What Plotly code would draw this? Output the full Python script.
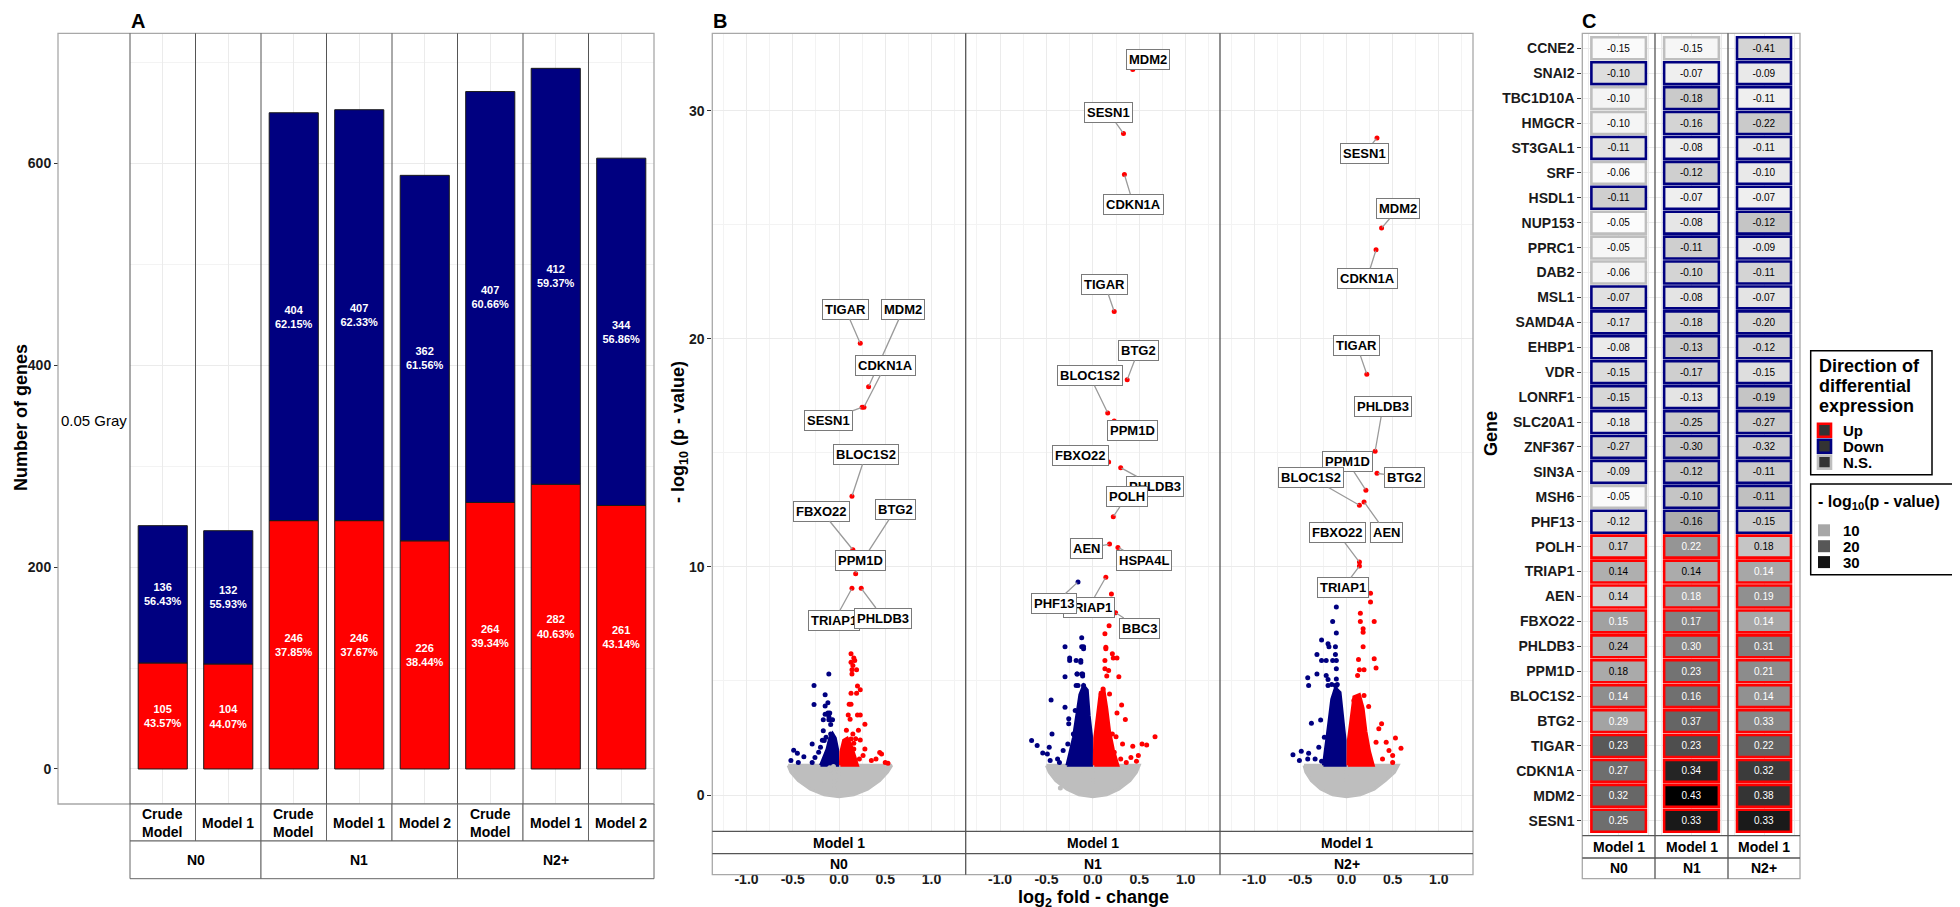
import plotly.graph_objects as go

W, H = 1960, 907
FONT = "Liberation Sans, Arial, Helvetica, sans-serif"
RED, NAVY, GREY = "#FF0000", "#000080", "#BEBEBE"
GRID, MINOR = "#EBEBEB", "#F3F3F3"

# ---------------- Panel A data ----------------
a_groups = ["N0", "N0", "N1", "N1", "N1", "N2+", "N2+", "N2+"]
a_models = ["Crude<br>Model", "Model 1", "Crude<br>Model", "Model 1", "Model 2",
            "Crude<br>Model", "Model 1", "Model 2"]
a_down = [136, 132, 404, 407, 362, 407, 412, 344]
a_up = [105, 104, 246, 246, 226, 264, 282, 261]
a_row_label = "0.05 Gray"
a_yticks = [0, 200, 400, 600]

# ---------------- Panel C data (also the labelled genes of panel B) ----------------
genes = ["CCNE2", "SNAI2", "TBC1D10A", "HMGCR", "ST3GAL1", "SRF", "HSDL1", "NUP153",
         "PPRC1", "DAB2", "MSL1", "SAMD4A", "EHBP1", "VDR", "LONRF1", "SLC20A1",
         "ZNF367", "SIN3A", "MSH6", "PHF13", "POLH", "TRIAP1", "AEN", "FBXO22",
         "PHLDB3", "PPM1D", "BLOC1S2", "BTG2", "TIGAR", "CDKN1A", "MDM2", "SESN1"]
c_groups = ["N0", "N1", "N2+"]
c_models = ["Model 1", "Model 1", "Model 1"]

lfc_n0 = [-0.15, -0.10, -0.10, -0.10, -0.11, -0.06, -0.11, -0.05, -0.05, -0.06, -0.07, -0.17,
          -0.08, -0.15, -0.15, -0.18, -0.27, -0.09, -0.05, -0.12, 0.17, 0.14, 0.14, 0.15,
          0.24, 0.18, 0.14, 0.29, 0.23, 0.27, 0.32, 0.25]
lfc_n1 = [-0.15, -0.07, -0.18, -0.16, -0.08, -0.12, -0.07, -0.08, -0.11, -0.10, -0.08, -0.18,
          -0.13, -0.17, -0.13, -0.25, -0.30, -0.12, -0.10, -0.16, 0.22, 0.14, 0.18, 0.17,
          0.30, 0.23, 0.16, 0.37, 0.23, 0.34, 0.43, 0.33]
lfc_n2 = [-0.41, -0.09, -0.11, -0.22, -0.11, -0.10, -0.07, -0.12, -0.09, -0.11, -0.07, -0.20,
          -0.12, -0.15, -0.19, -0.27, -0.32, -0.11, -0.11, -0.15, 0.18, 0.14, 0.19, 0.14,
          0.31, 0.21, 0.14, 0.33, 0.22, 0.32, 0.38, 0.33]

# -log10(p-value), estimated from tile shade and volcano heights
nlp_n0 = [0.6, 3.6, 1.2, 1.1, 3.3, 0.6, 5.3, 0.3, 1.0, 1.25, 3.3, 3.3, 2.2, 3.9, 4.4, 2.4,
          4.8, 3.3, 0.6, 3.6, 5.9, 9.06, 5.3, 10.75, 9.06, 9.7, 13.1, 10.5, 19.8, 17.0, 17.9, 17.0]
nlp_n1 = [1.0, 1.8, 5.9, 4.8, 2.0, 5.3, 1.8, 2.8, 5.3, 4.8, 3.0, 4.8, 5.9, 5.3, 3.0, 5.9,
          6.5, 6.5, 6.5, 9.34, 12.2, 9.55, 11.0, 14.6, 14.35, 16.4, 16.75, 18.2, 21.2, 27.2, 31.8, 29.0]
nlp_n2 = [4.8, 2.4, 1.8, 5.9, 2.4, 2.4, 1.8, 6.5, 2.4, 4.8, 3.0, 4.8, 4.8, 3.6, 6.5, 5.9,
          5.3, 5.9, 7.1, 5.9, 6.5, 10.04, 12.85, 10.21, 15.07, 13.36, 12.7, 14.1, 18.45, 23.9, 24.85, 28.8]

dir_n0 = ["NS", "Down", "NS", "NS", "Down", "NS", "Down", "NS", "NS", "NS", "Down", "Down",
          "Down", "Down", "Down", "Down", "Down", "Down", "NS", "Down", "Up", "Up", "Up", "Up",
          "Up", "Up", "Up", "Up", "Up", "Up", "Up", "Up"]
dir_n1 = ["NS", "Down", "Down", "Down", "Down", "Down", "Down", "Down", "Down", "Down", "Down", "Down",
          "Down", "Down", "Down", "Down", "Down", "Down", "Down", "Down", "Up", "Up", "Up", "Up",
          "Up", "Up", "Up", "Up", "Up", "Up", "Up", "Up"]
dir_n2 = ["Down", "Down", "Down", "Down", "Down", "Down", "Down", "Down", "Down", "Down", "Down", "Down",
          "Down", "Down", "Down", "Down", "Down", "Down", "Down", "Down", "Up", "Up", "Up", "Up",
          "Up", "Up", "Up", "Up", "Up", "Up", "Up", "Up"]

# ---------------- Panel B data: other genes ----------------
b_extra_genes_n1 = ["HSPA4L", "BBC3"]
b_extra_lfc_n1 = [0.27, 0.245]
b_extra_nlp_n1 = [10.85, 7.99]

n0_up_pts = [(0.13, 6.19), (0.16, 6.01), (0.13, 5.82), (0.15, 5.68), (0.19, 5.49), (0.14, 5.49),
             (0.20, 4.78), (0.23, 4.61), (0.13, 4.46), (0.19, 4.46), (0.11, 3.98), (0.13, 3.98),
             (0.10, 3.51), (0.20, 3.51), (0.23, 3.51), (0.12, 3.32), (0.28, 3.10), (0.21, 2.84),
             (0.08, 2.84), (0.15, 2.68), (0.18, 2.47), (0.23, 2.41), (0.13, 2.46), (0.16, 2.27),
             (0.28, 2.02), (0.16, 2.02), (0.46, 1.80), (0.44, 1.86), (0.35, 1.51), (0.40, 1.58),
             (0.53, 1.39), (0.50, 1.43), (0.22, 1.58), (0.26, 1.73), (0.10, 2.17), (0.06, 1.95)]
n0_down_pts = [(-0.27, 3.97), (-0.12, 4.04), (-0.15, 3.54), (-0.11, 3.44), (-0.09, 3.09),
               (-0.17, 2.82), (-0.09, 2.68), (-0.29, 2.24), (-0.49, 1.96), (-0.45, 1.83),
               (-0.38, 1.68), (-0.52, 1.51), (-0.44, 1.43), (-0.29, 1.43), (-0.22, 1.87),
               (-0.16, 2.39), (-0.20, 2.09), (-0.14, 2.53), (-0.26, 1.65)]
n1_up_pts = [(0.20, 8.81), (0.175, 7.42), (0.13, 7.07), (0.14, 6.48), (0.14, 6.41), (0.21, 6.19),
             (0.26, 6.01), (0.22, 6.01), (0.13, 5.90), (0.13, 5.53), (0.17, 5.46), (0.28, 5.19),
             (0.15, 5.22), (0.11, 4.65), (0.18, 4.43), (0.09, 4.43), (0.31, 3.95), (0.26, 3.60),
             (0.35, 3.31), (0.21, 2.68), (0.25, 2.56), (0.32, 2.24), (0.67, 2.56), (0.53, 2.24),
             (0.58, 2.19), (0.43, 2.14), (0.36, 1.43), (0.41, 1.65), (0.47, 1.48), (0.30, 1.58),
             (0.23, 1.87), (0.49, 1.73)]
n1_down_pts = [(-0.12, 6.89), (-0.10, 6.41), (-0.25, 6.01), (-0.13, 5.82), (-0.17, 5.31),
               (-0.11, 5.22), (-0.30, 5.19), (-0.45, 4.17), (-0.30, 3.85), (-0.26, 3.34),
               (-0.44, 2.68), (-0.26, 3.12), (-0.66, 2.39), (-0.60, 2.17), (-0.47, 2.09),
               (-0.49, 1.80), (-0.54, 1.84), (-0.38, 1.58), (-0.46, 1.51), (-0.27, 2.24),
               (-0.32, 1.95), (-0.21, 2.68), (-0.19, 3.70), (-0.36, 1.43)]
n2_up_pts = [(0.26, 8.85), (0.26, 8.46), (0.15, 7.97), (0.30, 7.61), (0.15, 7.61), (0.18, 7.29),
             (0.18, 7.14), (0.30, 5.97), (0.32, 5.57), (0.13, 5.94), (0.14, 5.49), (0.19, 5.49),
             (0.12, 5.24), (0.19, 4.36), (0.24, 3.88), (0.38, 3.12), (0.35, 2.90), (0.32, 2.31),
             (0.43, 2.31), (0.53, 2.50), (0.59, 2.05), (0.50, 1.73), (0.39, 1.58), (0.50, 1.43),
             (0.46, 1.95), (0.08, 4.14)]
n2_down_pts = [(-0.11, 8.24), (-0.15, 7.61), (-0.27, 6.80), (-0.20, 6.63), (-0.32, 6.16),
               (-0.12, 6.16), (-0.11, 5.53), (-0.42, 5.14), (-0.22, 5.24), (-0.20, 5.06),
               (-0.16, 4.84), (-0.11, 5.09), (-0.10, 4.84), (-0.38, 3.15), (-0.28, 3.29),
               (-0.58, 1.77), (-0.51, 1.51), (-0.42, 1.58), (-0.41, 1.83), (-0.49, 1.92),
               (-0.34, 1.58), (-0.30, 2.09), (-0.27, 1.48), (-0.24, 2.53)]
n1_ns_pts = [(-0.35, 0.31)]

# dense cores of significant genes (outline)
n0_down_core = [(-0.20, 1.3), (-0.015, 1.3), (-0.015, 2.0), (-0.04, 2.5), (-0.07, 2.7),
                (-0.10, 2.5), (-0.13, 2.0), (-0.17, 1.6)]
n0_up_core = [(0.015, 1.3), (0.20, 1.3), (0.17, 1.7), (0.13, 2.2), (0.09, 2.5), (0.05, 2.4), (0.02, 1.9)]
n1_down_core = [(-0.28, 1.3), (-0.015, 1.3), (-0.015, 2.6), (-0.04, 3.5), (-0.06, 4.6), (-0.10, 4.8),
                (-0.14, 4.4), (-0.17, 3.5), (-0.21, 2.5), (-0.25, 1.8)]
n1_up_core = [(0.015, 1.3), (0.27, 1.3), (0.22, 2.0), (0.18, 2.8), (0.15, 3.8), (0.12, 4.6),
              (0.08, 4.5), (0.05, 3.6), (0.02, 2.5)]
n2_down_core = [(-0.25, 1.3), (-0.015, 1.3), (-0.015, 2.4), (-0.04, 3.4), (-0.07, 4.5), (-0.12, 4.7),
                (-0.16, 4.2), (-0.19, 3.2), (-0.22, 2.3)]
n2_up_core = [(0.015, 1.3), (0.29, 1.3), (0.25, 1.9), (0.21, 2.8), (0.18, 3.8), (0.14, 4.4),
              (0.08, 4.3), (0.05, 3.4), (0.02, 2.4)]
# not-significant cloud outline
n0_cloud = [(-0.55, 1.3), (-0.005, 1.3), (0.0, 0.5), (0.005, 1.3), (0.57, 1.3), (0.525, 1.0),
            (0.44, 0.63), (0.31, 0.26), (0.16, 0.01), (0.0, -0.07), (-0.16, 0.01), (-0.31, 0.26),
            (-0.44, 0.63), (-0.52, 1.0)]
n1_cloud = [(-0.50, 1.3), (-0.005, 1.3), (0.0, 0.5), (0.005, 1.3), (0.50, 1.3), (0.47, 1.0),
            (0.40, 0.63), (0.28, 0.26), (0.15, 0.01), (0.0, -0.07), (-0.15, 0.01), (-0.28, 0.26),
            (-0.40, 0.63), (-0.47, 1.0)]
n2_cloud = [(-0.46, 1.3), (-0.005, 1.3), (0.0, 0.5), (0.005, 1.3), (0.56, 1.3), (0.52, 1.0),
            (0.42, 0.63), (0.30, 0.26), (0.15, 0.01), (0.0, -0.07), (-0.15, 0.01), (-0.28, 0.26),
            (-0.38, 0.63), (-0.44, 1.0)]

# label box positions (ggrepel placement) for panel B
b_label_pos = [
    {"TIGAR": (0.068, 21.3), "MDM2": (0.696, 21.3), "CDKN1A": (0.504, 18.85), "SESN1": (-0.115, 16.43),
     "BLOC1S2": (0.29, 14.94), "FBXO22": (-0.19, 12.45), "BTG2": (0.61, 12.51), "PPM1D": (0.235, 10.29),
     "TRIAP1": (-0.05, 7.65), "PHLDB3": (0.48, 7.76)},
    {"MDM2": (0.598, 32.24), "SESN1": (0.171, 29.9), "CDKN1A": (0.436, 25.9), "TIGAR": (0.128, 22.4),
     "BTG2": (0.491, 19.5), "BLOC1S2": (-0.034, 18.38), "PPM1D": (0.427, 15.97), "FBXO22": (-0.137, 14.9),
     "PHLDB3": (0.67, 13.53), "POLH": (0.363, 13.07), "AEN": (-0.064, 10.8), "HSPA4L": (0.547, 10.29),
     "TRIAP1": (-0.043, 8.24), "PHF13": (-0.414, 8.38), "BBC3": (0.5, 7.32)},
    {"SESN1": (0.193, 28.14), "MDM2": (0.558, 25.7), "CDKN1A": (0.223, 22.65), "TIGAR": (0.113, 19.7),
     "PHLDB3": (0.394, 17.02), "PPM1D": (0.011, 14.6), "BLOC1S2": (-0.383, 13.92), "BTG2": (0.63, 13.94),
     "FBXO22": (-0.099, 11.49), "AEN": (0.43, 11.49), "TRIAP1": (-0.033, 9.09)},
]
b_xticks = [-1.0, -0.5, 0.0, 0.5, 1.0]
b_yticks = [0, 10, 20, 30]
legend_dirs = ["Up", "Down", "N.S."]
legend_nlp = [10, 20, 30]

# ---------------- helpers ----------------
def fx(p):
    return p / W

def fy(p):
    return 1 - p / H

def lab_gray(t):
    L = 100 * (1 - t)
    Y = ((L + 16) / 116) ** 3 if L > 8 else L / 903.3
    s = 12.92 * Y if Y <= 0.0031308 else 1.055 * Y ** (1 / 2.4) - 0.055
    g = int(round(255 * min(max(s, 0), 1)))
    return f"rgb({g},{g},{g})"

gray_scale = [[i / 20, lab_gray(i / 20)] for i in range(21)]
PMAX = max(nlp_n0 + nlp_n1 + nlp_n2)
DIRCOL = {"Up": RED, "Down": NAVY, "NS": GREY, "N.S.": GREY}

fig = go.Figure()
layout = {}
shapes, annos = [], []

def rect(x0, y0, x1, y1, color, width=1.0, fill="rgba(0,0,0,0)"):
    shapes.append(dict(type="rect", xref="paper", yref="paper", x0=fx(x0), x1=fx(x1),
                       y0=fy(y1), y1=fy(y0), line=dict(color=color, width=width),
                       fillcolor=fill, layer="above"))

def hline(x0, x1, y, color, width=1.0):
    shapes.append(dict(type="line", xref="paper", yref="paper", x0=fx(x0), x1=fx(x1),
                       y0=fy(y), y1=fy(y), line=dict(color=color, width=width), layer="above"))

def vline(x, y0, y1, color, width=1.0):
    shapes.append(dict(type="line", xref="paper", yref="paper", x0=fx(x), x1=fx(x),
                       y0=fy(y0), y1=fy(y1), line=dict(color=color, width=width), layer="above"))

def text(x, y, s, size=14, bold=True, angle=0, color="black", xanchor="center", yanchor="middle"):
    annos.append(dict(x=fx(x), y=fy(y), xref="paper", yref="paper", text=s, showarrow=False,
                      textangle=angle, xanchor=xanchor, yanchor=yanchor,
                      font=dict(family=FONT, size=size, color=color,
                                weight="bold" if bold else "normal")))

TICKFONT = dict(family=FONT, size=14, color="#1a1a1a", weight="bold")
TOP = 25.3
FRAME = "#A8A8A8"
DIV = "#555555"

# ================= Panel A =================
A_OUT_L, A_L, A_R, A_BOT, A_S1, A_S2 = 50, 122, 646, 796, 833, 870.7
nA = len(a_models)
a_edges = [A_L + i * (A_R - A_L) / nA for i in range(nA + 1)]
for i in range(nA):
    xa = "x" if i == 0 else f"x{i + 1}"
    key = "xaxis" if i == 0 else f"xaxis{i + 1}"
    layout[key] = dict(domain=[fx(a_edges[i]), fx(a_edges[i + 1])], anchor="y", type="category",
                       range=[-0.6, 0.6], showticklabels=False, ticks="", showgrid=True,
                       gridcolor=GRID, zeroline=False, showline=False)
    tot = a_up[i] + a_down[i]
    tf = dict(family=FONT, size=11, color="white", weight="bold")
    fig.add_trace(go.Bar(x=[a_models[i]], y=[a_up[i]], base=[0], width=[0.9], xaxis=xa, yaxis="y",
                         marker=dict(color=RED, line=dict(color="#1a1a1a", width=1)),
                         text=[f"{a_up[i]}<br>{100 * a_up[i] / tot:.2f}%"], textposition="inside",
                         insidetextanchor="middle", textangle=0, textfont=tf,
                         hoverinfo="skip", showlegend=False))
    fig.add_trace(go.Bar(x=[a_models[i]], y=[a_down[i]], base=[a_up[i]], width=[0.9], xaxis=xa, yaxis="y",
                         marker=dict(color=NAVY, line=dict(color="#1a1a1a", width=1)),
                         text=[f"{a_down[i]}<br>{100 * a_down[i] / tot:.2f}%"], textposition="inside",
                         insidetextanchor="middle", textangle=0, textfont=tf,
                         hoverinfo="skip", showlegend=False))

ymaxA = max(u + d for u, d in zip(a_up, a_down))
layout["yaxis"] = dict(domain=[fy(A_BOT), fy(TOP)], range=[-0.05 * ymaxA, 1.05 * ymaxA],
                       anchor="free", position=fx(A_OUT_L), tickvals=a_yticks, ticks="outside",
                       ticklen=4, tickcolor="#333", tickfont=TICKFONT, showgrid=True, gridcolor=GRID,
                       zeroline=False, showline=False,
                       minor=dict(tickvals=[100, 300, 500, 700], showgrid=True, gridcolor=MINOR, ticks=""))
rect(A_OUT_L, TOP, A_R, A_BOT, FRAME, 1.3)
for e in a_edges[:-1]:
    vline(e, TOP, A_BOT, DIV, 1)
for i in range(nA):
    rect(a_edges[i], A_BOT, a_edges[i + 1], A_S1, "#666", 1, "white")
    text((a_edges[i] + a_edges[i + 1]) / 2, (A_BOT + A_S1) / 2, a_models[i], 14)
start = 0
for i in range(1, nA + 1):
    if i == nA or a_groups[i] != a_groups[start]:
        rect(a_edges[start], A_S1, a_edges[i], A_S2, "#666", 1, "white")
        text((a_edges[start] + a_edges[i]) / 2, (A_S1 + A_S2) / 2, a_groups[start], 14)
        start = i
text((A_OUT_L + A_L) / 2, 412, a_row_label, 15, bold=False)
text(13, 410, "Number of genes", 18, angle=-90)
text(130, 0, "A", 20, yanchor="top")

# ================= Panel B =================
B_EDGES = [704.3, 957.7, 1212, 1465]
B_BOT, B_S1, B_S2 = 823.3, 845.7, 866.7
lfcs = [lfc_n0, lfc_n1, lfc_n2]
nlps = [nlp_n0, nlp_n1, nlp_n2]
dirs = [dir_n0, dir_n1, dir_n2]
clouds = [n0_cloud, n1_cloud, n2_cloud]
down_cores = [n0_down_core, n1_down_core, n2_down_core]
up_cores = [n0_up_core, n1_up_core, n2_up_core]
up_pts = [n0_up_pts, n1_up_pts, n2_up_pts]
down_pts = [n0_down_pts, n1_down_pts, n2_down_pts]
ns_pts = [[], n1_ns_pts, []]
extras = [([], [], []), (b_extra_genes_n1, b_extra_lfc_n1, b_extra_nlp_n1), ([], [], [])]
ymaxB = max(max(v) for v in nlps)
MS = 5

for k in range(3):
    ax_id = 9 + k
    xa = f"x{ax_id}"
    layout[f"xaxis{ax_id}"] = dict(domain=[fx(B_EDGES[k]), fx(B_EDGES[k + 1])], anchor="y2",
                                   range=[-1.37, 1.37], tickvals=b_xticks,
                                   ticktext=[f"{v:.1f}" for v in b_xticks], tickfont=TICKFONT,
                                   ticks="", ticklabelstandoff=38, showgrid=True, gridcolor=GRID,
                                   zeroline=False, showline=False,
                                   minor=dict(tickvals=[-1.25, -0.75, -0.25, 0.25, 0.75, 1.25],
                                              showgrid=True, gridcolor=MINOR, ticks=""))

    def poly(pts, color):
        xs = [p[0] for p in pts] + [pts[0][0]]
        ys = [p[1] for p in pts] + [pts[0][1]]
        fig.add_trace(go.Scatter(x=xs, y=ys, mode="lines", fill="toself", fillcolor=color,
                                 line=dict(color=color, width=3), xaxis=xa, yaxis="y2",
                                 hoverinfo="skip", showlegend=False))
    poly(clouds[k], GREY)
    poly(down_cores[k], NAVY)
    poly(up_cores[k], RED)
    for pts, col in ((ns_pts[k], GREY), (down_pts[k], NAVY), (up_pts[k], RED)):
        if pts:
            fig.add_trace(go.Scatter(x=[p[0] for p in pts], y=[p[1] for p in pts], mode="markers",
                                     marker=dict(color=col, size=MS), xaxis=xa, yaxis="y2",
                                     hoverinfo="skip", showlegend=False))
    for d, col in (("NS", GREY), ("Down", NAVY), ("Up", RED)):
        xs = [lfcs[k][j] for j in range(len(genes)) if dirs[k][j] == d]
        ys = [nlps[k][j] for j in range(len(genes)) if dirs[k][j] == d]
        if xs:
            fig.add_trace(go.Scatter(x=xs, y=ys, mode="markers", marker=dict(color=col, size=MS),
                                     xaxis=xa, yaxis="y2", hoverinfo="skip", showlegend=False))
    eg, el, en = extras[k]
    if eg:
        fig.add_trace(go.Scatter(x=el, y=en, mode="markers", marker=dict(color=RED, size=MS),
                                 xaxis=xa, yaxis="y2", hoverinfo="skip", showlegend=False))
    coords = {g: (lfcs[k][j], nlps[k][j]) for j, g in enumerate(genes)}
    for g, l, n_ in zip(eg, el, en):
        coords[g] = (l, n_)
    for g, (lx, ly) in b_label_pos[k].items():
        px_, py_ = coords[g]
        annos.append(dict(x=px_, y=py_, xref=xa, yref="y2", ax=lx, ay=ly, axref=xa, ayref="y2",
                          text=f"<b>{g}</b>", showarrow=True, arrowhead=0, arrowwidth=1.3,
                          arrowcolor="#9a9a9a", standoff=1, bgcolor="white", bordercolor="#7a7a7a",
                          borderwidth=1, borderpad=2,
                          font=dict(family=FONT, size=13, color="black")))

layout["yaxis2"] = dict(domain=[fy(B_BOT), fy(TOP)], range=[-0.05 * ymaxB, 1.05 * ymaxB], anchor="x9",
                        tickvals=b_yticks, ticks="outside", ticklen=4, tickcolor="#333",
                        tickfont=TICKFONT, showgrid=True, gridcolor=GRID, zeroline=False, showline=False,
                        minor=dict(tickvals=[5, 15, 25], showgrid=True, gridcolor=MINOR, ticks=""))
rect(B_EDGES[0], TOP, B_EDGES[-1], B_S2, FRAME, 1.3)
for e in B_EDGES[1:-1]:
    vline(e, TOP, B_S2, DIV, 1.3)
hline(B_EDGES[0], B_EDGES[-1], B_BOT, DIV, 1.3)
hline(B_EDGES[0], B_EDGES[-1], B_S1, DIV, 1.3)
for k in range(3):
    cx = (B_EDGES[k] + B_EDGES[k + 1]) / 2
    text(cx, (B_BOT + B_S1) / 2, c_models[k], 14)
    text(cx, (B_S1 + B_S2) / 2, c_groups[k], 14)
text(672, 424, "- log<sub>10</sub> (p - value)", 18, angle=-90)
text(1085, 890, "log<sub>2</sub> fold - change", 18)
text(712, 0, "B", 20, yanchor="top")

# ================= Panel C =================
C_EDGES = [1574.3, 1647, 1720, 1792]
C_BOT, C_S1, C_S2 = 827.7, 850, 870.7
TILE = 0.9
for k in range(3):
    ax_id = 12 + k
    xa = f"x{ax_id}"
    layout[f"xaxis{ax_id}"] = dict(domain=[fx(C_EDGES[k]), fx(C_EDGES[k + 1])], anchor="y3",
                                   range=[-0.6, 0.6], showticklabels=False, ticks="",
                                   showgrid=True, gridcolor=GRID, zeroline=False, showline=False)
    fig.add_trace(go.Bar(orientation="h", y=genes, x=[TILE] * len(genes), base=[-TILE / 2] * len(genes),
                         width=0.88, xaxis=xa, yaxis="y3",
                         marker=dict(color=nlps[k], colorscale=gray_scale, cmin=0, cmax=PMAX,
                                     line=dict(color=[DIRCOL[d] for d in dirs[k]], width=2.6)),
                         text=[f"{v:.2f}" for v in lfcs[k]], textposition="inside",
                         insidetextanchor="middle", textangle=0, constraintext="none",
                         textfont=dict(family=FONT, size=10,
                                       color=["white" if p > 10 else "black" for p in nlps[k]]),
                         hoverinfo="skip", showlegend=False))

layout["yaxis3"] = dict(domain=[fy(C_BOT), fy(TOP)], type="category", categoryorder="array",
                        categoryarray=genes, range=[len(genes) - 0.4, -0.6], anchor="x12",
                        ticks="outside", ticklen=4, tickcolor="#333", tickfont=TICKFONT,
                        showgrid=True, gridcolor=GRID, zeroline=False, showline=False)
rect(C_EDGES[0], TOP, C_EDGES[-1], C_S2, FRAME, 1.3)
for e in C_EDGES[1:-1]:
    vline(e, TOP, C_S2, DIV, 1.3)
hline(C_EDGES[0], C_EDGES[-1], C_BOT, DIV, 1.3)
hline(C_EDGES[0], C_EDGES[-1], C_S1, DIV, 1.3)
for k in range(3):
    cx = (C_EDGES[k] + C_EDGES[k + 1]) / 2
    text(cx, (C_BOT + C_S1) / 2, c_models[k], 14)
    text(cx, (C_S1 + C_S2) / 2, c_groups[k], 14)
text(1483, 426, "Gene", 18, angle=-90)
text(1581, 0, "C", 20, yanchor="top")

# ---------------- legends (drawn as keys + text) ----------------
L1 = (1802.7, 342.7, 1924, 466.7)
rect(*L1, "black", 1.5, "white")
for j, s in enumerate(["Direction of", "differential", "expression"]):
    text(1808.5, 357.5 + 20 * j, s, 18, xanchor="left")
for j, d in enumerate(legend_dirs):
    cy = 422.3 + 15.9 * j
    rect(1810, cy - 6.5, 1823, cy + 6.5, DIRCOL[d], 2.6, "#333333")
    text(1833, cy, d, 15, xanchor="left")
L2 = (1802.7, 476, 1958.3, 566.7)
rect(*L2, "black", 1.5, "white")
text(1807.5, 494, "- log<sub>10</sub>(p - value)", 16, xanchor="left")
for j, v in enumerate(legend_nlp):
    cy = 522.3 + 15.9 * j
    rect(1810, cy - 6, 1822, cy + 6, lab_gray(v / PMAX), 0, lab_gray(v / PMAX))
    text(1833, cy, str(v), 15, xanchor="left")

fig.update_layout(width=W, height=H, autosize=False, margin=dict(l=0, r=0, t=0, b=0),
                  paper_bgcolor="white", plot_bgcolor="white", barmode="overlay", showlegend=False,
                  font=dict(family=FONT, color="black"), shapes=shapes, annotations=annos, **layout)
fig.write_html("out.html")
